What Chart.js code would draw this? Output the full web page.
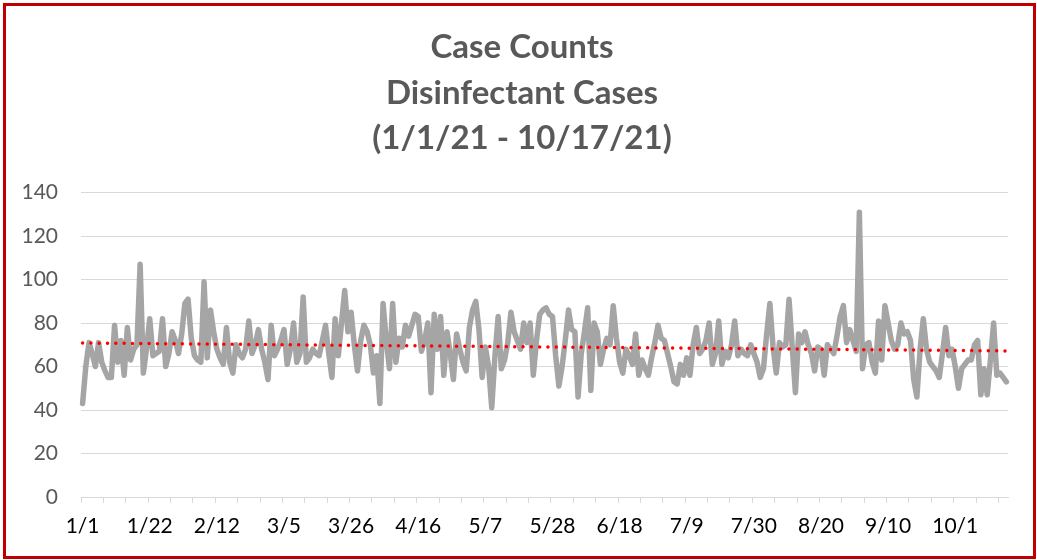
<!DOCTYPE html>
<html>
<head>
<meta charset="utf-8">
<script src="https://cdn.jsdelivr.net/npm/chart.js@4"></script>
<style>
  html, body { margin: 0; padding: 0; background: #fff; }
  #wrap { position: relative; width: 1037px; height: 560px; }
  #frame {
    position: absolute; left: 3px; top: 3px; width: 1033px; height: 556px;
    box-sizing: border-box; border: 3px solid #c00000; pointer-events: none;
  }
</style>
</head>
<body>
<div id="wrap">
  <canvas id="caseChart" width="1037" height="560"></canvas>
  <div id="frame"></div>
</div>
<script>
// Daily disinfectant case counts, 1/1/21 through 10/17/21
const startDate = new Date(2021, 0, 1);
const dayCount = 290;

const tickLabels = ['1/1', '1/22', '2/12', '3/5', '3/26', '4/16', '5/7',
  '5/28', '6/18', '7/9', '7/30', '8/20', '9/10', '10/1'];

const caseCounts = [
  43, 60, 71, 66, 60, 71, 62, 58, 55, 55,
  79, 62, 72, 56, 78, 63, 68, 70, 107, 57,
  68, 82, 65, 66, 67, 82, 60, 66, 76, 72,
  66, 75, 89, 91, 73, 65, 63, 62, 99, 64,
  86, 76, 68, 64, 61, 78, 62, 57, 70, 66,
  64, 68, 81, 66, 70, 77, 68, 62, 54, 79,
  65, 68, 72, 77, 61, 68, 80, 62, 66, 92,
  62, 64, 68, 66, 65, 72, 79, 66, 55, 82,
  65, 80, 95, 76, 85, 70, 58, 72, 79, 76,
  70, 57, 65, 43, 89, 72, 59, 89, 62, 73,
  69, 79, 74, 79, 84, 83, 67, 72, 80, 48,
  84, 68, 83, 56, 76, 66, 54, 75, 68, 62,
  58, 78, 86, 90, 77, 55, 69, 60, 41, 65,
  83, 59, 63, 71, 85, 76, 72, 68, 80, 71,
  80, 56, 72, 84, 86, 87, 84, 83, 65, 51,
  60, 72, 86, 77, 76, 46, 66, 76, 87, 49,
  80, 76, 61, 68, 73, 70, 88, 73, 62, 57,
  68, 65, 61, 75, 56, 63, 59, 56, 64, 71,
  79, 73, 72, 66, 60, 53, 52, 61, 56, 64,
  56, 70, 78, 66, 68, 72, 80, 61, 66, 81,
  61, 67, 64, 70, 81, 65, 68, 66, 65, 70,
  66, 62, 55, 59, 75, 89, 69, 57, 71, 69,
  70, 91, 69, 48, 75, 71, 76, 70, 66, 58,
  69, 68, 56, 70, 68, 66, 74, 83, 88, 71,
  77, 72, 67, 131, 59, 70, 71, 62, 57, 81,
  63, 88, 80, 72, 68, 70, 80, 75, 76, 72,
  54, 46, 68, 82, 68, 62, 60, 58, 55, 66,
  78, 65, 68, 60, 50, 59, 61, 63, 63, 70,
  72, 47, 59, 47, 63, 80, 56, 57, 55, 53
];

const yTicks = [0, 20, 40, 60, 80, 100, 120, 140];

// Build M/D labels for each day
const dayLabels = [];
for (let i = 0; i < dayCount; i++) {
  const d = new Date(startDate);
  d.setDate(d.getDate() + i);
  dayLabels.push(`${d.getMonth() + 1}/${d.getDate()}`);
}

// Linear trend line (least squares), like Excel's
function linearTrend(values) {
  const n = values.length;
  let sx = 0, sy = 0, sxy = 0, sxx = 0;
  values.forEach((v, i) => { sx += i; sy += v; sxy += i * v; sxx += i * i; });
  const slope = (n * sxy - sx * sy) / (n * sxx - sx * sx);
  const intercept = (sy - slope * sx) / n;
  return values.map((v, i) => intercept + slope * i);
}

const trend = linearTrend(caseCounts);

const ctx = document.getElementById('caseChart').getContext('2d');
new Chart(ctx, {
  type: 'line',
  data: {
    labels: dayLabels,
    datasets: [
      {
        label: 'Cases',
        data: caseCounts,
        borderColor: '#a5a5a5',
        borderWidth: 5.5,
        pointRadius: 0,
        tension: 0,
        borderJoinStyle: 'round',
        borderCapStyle: 'round',
        order: 2
      },
      {
        label: 'Trend',
        data: trend,
        borderColor: '#ff0000',
        borderWidth: 3.5,
        borderDash: [0.01, 8.3],
        borderCapStyle: 'round',
        pointRadius: 0,
        order: 1
      }
    ]
  },
  options: {
    responsive: false,
    animation: false,
    layout: { padding: { left: 7, right: 0, top: 0, bottom: 8 } },
    plugins: {
      legend: { display: false },
      tooltip: { enabled: false },
      title: {
        display: true,
        text: ['Case Counts', 'Disinfectant Cases', '(1/1/21 - 10/17/21)'],
        color: '#595959',
        font: { family: 'Lato', size: 33, weight: 'bold', lineHeight: 1.38 },
        padding: { top: 25, bottom: 31 }
      }
    },
    scales: {
      x: {
        type: 'category',
        offset: true,
        grid: {
          offset: true,
          drawOnChartArea: false,
          tickLength: 6,
          color: (c) => (c.index % 7 === 0 ? '#d9d9d9' : 'rgba(0,0,0,0)')
        },
        border: { display: true, color: '#d9d9d9', width: 1 },
        ticks: {
          autoSkip: false,
          maxRotation: 0,
          minRotation: 0,
          padding: 11,
          color: '#000',
          font: { family: 'Lato', size: 21 },
          callback: (v, i) => (tickLabels.includes(dayLabels[i]) ? dayLabels[i] : '')
        },
        afterFit: (scale) => { scale.height = 55; }
      },
      y: {
        min: 0,
        max: 140,
        afterBuildTicks: (scale) => { scale.ticks = yTicks.map(v => ({ value: v })); },
        grid: { color: '#d9d9d9', drawTicks: false },
        border: { display: false },
        ticks: {
          padding: 23,
          color: '#595959',
          font: { family: 'Lato', size: 21 }
        },
        afterFit: (scale) => { scale.width = 74; }
      },
      pad: {
        position: 'right',
        display: true,
        grid: { display: false },
        border: { display: false },
        ticks: { display: false },
        afterFit: (scale) => { scale.width = 29; }
      }
    }
  }
});
</script>
</body>
</html>
